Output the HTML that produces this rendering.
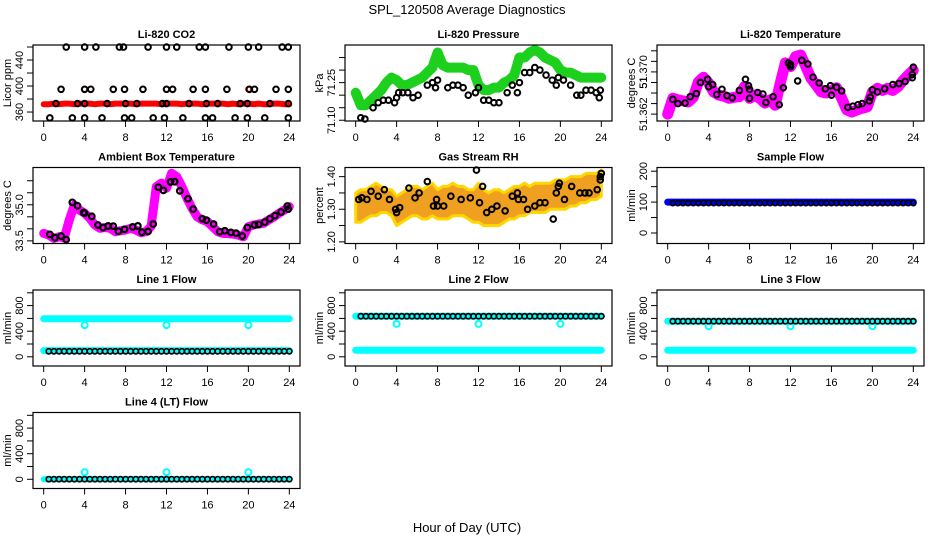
<!DOCTYPE html>
<html><head><meta charset="utf-8">
<style>
html,body{margin:0;padding:0;background:#fff;}
svg{display:block;font-family:"Liberation Sans",Arial,sans-serif;}
</style></head>
<body>
<svg id="chart" width="936" height="540" viewBox="0 0 936 540" xmlns="http://www.w3.org/2000/svg">
<rect width="936" height="540" fill="#fff"/>
<text x="467" y="14" text-anchor="middle" font-size="13">SPL_120508  Average Diagnostics</text>
<text x="467" y="532" text-anchor="middle" font-size="13">Hour of Day (UTC)</text>
</svg>
<script>
// ---- data ----
const H05 = [0,0.5,1,1.5,2,2.5,3,3.5,4,4.5,5,5.5,6,6.5,7,7.5,8,8.5,9,9.5,10,10.5,11,11.5,12,12.5,13,13.5,14,14.5,15,15.5,16,16.5,17,17.5,18,18.5,19,19.5,20,20.5,21,21.5,22,22.5,23,23.5,24];
const HB = [0.5,1,1.5,2,2.5,3,3.5,4,4.5,5,5.5,6,6.5,7,7.5,8,8.5,9,9.5,10,10.5,11,11.5,12,12.5,13,13.5,14,14.5,15,15.5,16,16.5,17,17.5,18,18.5,19,19.5,20,20.5,21,21.5,22,22.5,23,23.5,24];
const xTicks = [0,4,8,12,16,20,24];
const xTickLabels = ["0","4","8","12","16","20","24"];
const dipHours = [4,12,20];

const co2Red = [372,372,373,372,373,373,372, 373,373,373,372,373,373,372, 373,373,373,373,372,373,373, 373,373,372,373,373,373,372, 373,373,373,372,373,373,373, 373,372,373,372,373,373,372, 373,372,372,373,373,372,372];
const co2RedDips = [395,395,395];
const co2BlackH = [2.2,4,5.1,7.4,7.8,10.2,12,13,15.2,15.8,18.1,20,21,23.3,23.9, 1.7,4,4.6,6.8,7.9,9.7,12,12.6,14.6,15.8,17.9,20.1,20.6,22.7,23.9, 1.2,3.3,4,6.2,8,9.1,11.6,12,14.2,15.9,17,19.2,19.9,22.1,23.9, 0.6,2.8,4,5.7,7.9,8.6,10.7,11.8,13.6,15.8,16.5,18.7,19.9,21.6,23.9];
const co2BlackV = [460,460,460,460,460,460,460,460,460,460,460,460,460,460,460, 395,395,395,395,395,395,395,395,395,395,395,395,395,395,395, 373,373,373,373,373,373,373,373,373,373,373,373,373,373,373, 351,351,351,351,351,351,351,351,351,351,351,351,351,351,351];

const pressGreen = [71.21,71.16,71.16,71.18,71.20,71.22,71.25,71.27,71.26,71.24,71.24,71.25,71.26,71.27,71.29,71.31,71.37,71.32,71.31,71.31,71.31,71.31,71.30,71.30,71.24,71.22,71.22,71.23,71.23,71.25,71.26,71.28,71.35,71.35,71.37,71.38,71.37,71.35,71.34,71.33,71.30,71.29,71.29,71.28,71.27,71.27,71.27,71.27,71.27];
const pressBlackH = [0.5,0.9,1.7,2.2,2.7,3.2,3.8,4,4.2,4.6,5.1,5.6,6.1,7,7.5,7.8,8,9,9.5,10,10.5,11,11.7,12,12.5,13,13.5,14,14.8,15.3,15.8,16,16.5,17,17.5,18,18.6,19.2,19.6,19.8,20.3,21,21.6,22,22.5,23,23.5,23.8,23.9];
const pressBlackV = [71.11,71.105,71.15,71.17,71.18,71.18,71.17,71.19,71.21,71.21,71.21,71.19,71.20,71.24,71.25,71.23,71.26,71.23,71.24,71.24,71.23,71.20,71.21,71.23,71.18,71.18,71.17,71.17,71.21,71.24,71.21,71.25,71.29,71.29,71.31,71.30,71.28,71.26,71.24,71.27,71.26,71.24,71.20,71.20,71.22,71.22,71.21,71.19,71.22];

const tempMag = [51.3620,51.3650,51.3647,51.3645,51.3643,51.3652,51.3681,51.3690,51.3679,51.3662,51.3656,51.3654,51.3650,51.3652,51.3653,51.3672,51.3650,51.3656,51.3650,51.3641,51.3647,51.3637,51.3679,51.3717,51.3710,51.3729,51.3732,51.3710,51.3688,51.3675,51.3662,51.3660,51.3665,51.3670,51.3650,51.3628,51.3624,51.3628,51.3631,51.3634,51.3662,51.3669,51.3665,51.3669,51.3665,51.3672,51.3684,51.3694,51.3703];
const tempBlackH = [0.5,1,1.7,2.2,2.8,3.2,3.9,4,4.4,4.8,5.3,5.8,6.3,7,7.6,7.9,8,8,8.8,9.3,9.6,10.3,10.9,11.3,11.8,12,12,12.7,13.1,13.7,14.2,14.8,15.4,15.9,16,16.5,17,17.6,18.1,18.6,19,19.7,19.8,20,20.5,21.2,22,22.6,23.2,23.9,23.9,24];
const tempBlackV = [51.3648,51.3640,51.3641,51.3653,51.3659,51.3680,51.3686,51.3672,51.3676,51.3657,51.3667,51.3655,51.3651,51.3665,51.3686,51.3674,51.3667,51.3650,51.3661,51.3658,51.3642,51.3653,51.3638,51.3670,51.3717,51.3714,51.3710,51.3683,51.3722,51.3715,51.3690,51.3679,51.3668,51.3674,51.3656,51.3671,51.3664,51.3633,51.3635,51.3638,51.3640,51.3645,51.3652,51.3666,51.3662,51.3668,51.3676,51.3678,51.3682,51.3695,51.3689,51.3709];

const ambMag = [33.81,33.74,33.60,33.67,33.62,34.37,34.99,34.78,34.65,34.44,34.16,34.02,34.06,34.02,33.88,33.92,33.95,34.02,33.95,33.84,33.88,34.10,35.75,35.90,35.69,36.31,36.17,35.75,35.27,34.85,34.50,34.37,34.30,34.09,33.88,33.81,33.80,33.78,33.74,33.67,34.09,34.16,34.20,34.23,34.37,34.50,34.65,34.78,34.92];
const ambBlackH = [0.6,1.1,1.7,2.2,2.8,3.3,3.9,4,4.7,5.3,5.8,6.3,6.8,7.3,7.9,8.7,9.2,9.6,10.2,10.7,11.2,11.7,12.4,12.8,13.3,14.1,14.6,15.5,15.9,16.6,17.2,17.7,18.3,18.8,19.4,19.9,20.6,21,21.6,22.1,22.6,23.2,23.8,23.9];
const ambBlackV = [33.77,33.63,33.70,33.55,35.10,34.96,34.68,34.65,34.52,34.16,34.05,34.12,34.11,33.90,33.98,34.08,34.12,33.86,33.89,34.20,35.73,35.60,35.95,35.96,35.58,35.25,34.82,34.42,34.36,34.20,33.88,33.92,33.85,33.82,33.70,34.05,34.16,34.18,34.28,34.42,34.55,34.70,34.95,34.82];

const rhHi = [1.35,1.36,1.36,1.37,1.38,1.37,1.36,1.36,1.34,1.35,1.36,1.37,1.37,1.36,1.37,1.38,1.36,1.37,1.37,1.38,1.37,1.37,1.36,1.36,1.38,1.36,1.35,1.36,1.36,1.35,1.36,1.37,1.37,1.38,1.37,1.38,1.38,1.38,1.38,1.39,1.39,1.39,1.40,1.40,1.40,1.41,1.41,1.41,1.42];
const rhLo = [1.26,1.26,1.27,1.28,1.28,1.29,1.29,1.28,1.25,1.26,1.27,1.28,1.28,1.27,1.27,1.28,1.27,1.27,1.27,1.28,1.28,1.28,1.27,1.26,1.26,1.25,1.25,1.25,1.25,1.26,1.27,1.27,1.28,1.28,1.29,1.29,1.29,1.29,1.30,1.30,1.30,1.30,1.31,1.31,1.32,1.32,1.33,1.33,1.34];
const rhBlackH = [0.3,0.6,1.1,1.5,2.2,2.8,3.3,3.9,4,4.3,5.2,5.8,6.2,7,7.6,7.9,8,8.6,9.3,10.3,11.2,11.8,12.1,12.4,12.8,13.3,13.8,14.6,15.3,15.8,15.9,16.4,16.8,17.5,18,18.5,19.3,19.6,19.8,19.9,20.4,21.1,21.9,22.4,22.8,23.6,23.9,23.9,24];
const rhBlackV = [1.33,1.335,1.33,1.355,1.34,1.36,1.33,1.30,1.29,1.305,1.365,1.335,1.35,1.385,1.31,1.33,1.31,1.31,1.34,1.33,1.335,1.42,1.32,1.37,1.29,1.30,1.31,1.295,1.34,1.35,1.33,1.33,1.30,1.31,1.32,1.32,1.27,1.35,1.37,1.38,1.33,1.37,1.35,1.35,1.35,1.36,1.40,1.39,1.41];

const sampleBlue = [100,100,100,100,100,100,100,100,100,100,100,100,100,100,100,100,100,100,100,100,100,100,100,100,100,100,100,100,100,100,100,100,100,100,100,100,100,100,100,100,100,100,100,100,100,100,100,100,100];
const sampleBlack = [97,97,97,97,97,97,97,97,97,97,97,97,97,97,97,97,97,97,97,97,97,97,97,97,97,97,97,97,97,97,97,97,97,97,97,97,97,97,97,97,97,97,97,97,97,97,97,97];

const l1CyanHigh = [594,594,594,594,594,594,594,594,594,594,594,596,594,594,596,594,594,594,594,594,594,594,594,594,594,594,594,596,594,594,594,594,594,594,594,594,594,594,594,594,594,594,594,594,594,594,594,594,594];
const l1CyanLow = [96,96,96,96,96,96,96,96,96,96,96,96,96,96,96,96,96,96,96,96,96,96,96,96,96,96,96,96,96,96,96,96,96,96,96,96,96,96,96,96,96,96,96,96,96,96,96,96,96];
const l1Black = [86,86,86,86,86,86,86,86,86,86,86,86,86,86,86,86,86,86,86,86,86,86,86,86,86,86,86,86,86,86,86,86,86,86,86,86,86,86,86,86,86,86,86,86,86,86,86,86];
const l1Dips = [494,494,494];

const l2CyanHigh = [634,634,634,634,634,634,634,634,634,634,634,634,634,634,634,634,634,634,634,634,634,634,634,634,634,634,634,634,634,634,634,634,634,634,634,634,634,634,634,634,634,634,634,634,634,634,634,634,634];
const l2CyanLow = [103,103,103,103,103,103,103,103,103,103,103,103,103,103,103,103,103,103,103,103,103,103,103,103,103,103,103,103,103,103,103,103,103,103,103,103,103,103,103,103,103,103,103,103,103,103,103,103,103];
const l2Black = [634,634,634,634,634,634,634,634,634,634,634,634,634,634,634,634,634,634,634,634,634,634,634,634,634,634,634,634,634,634,634,634,634,634,634,634,634,634,634,634,634,634,634,634,634,634,634,634];
const l2Dips = [515,515,515];

const l3CyanHigh = [556,556,556,556,556,556,556,556,556,556,556,556,556,556,556,556,556,556,556,556,556,556,556,556,556,556,556,556,556,556,556,556,556,556,556,556,556,556,556,556,556,556,556,556,556,556,556,556,556];
const l3CyanLow = [103,103,103,103,103,103,103,103,103,103,103,103,103,103,103,103,103,103,103,103,103,103,103,103,103,103,103,103,103,103,103,103,103,103,103,103,103,103,103,103,103,103,103,103,103,103,103,103,103];
const l3Black = [556,556,556,556,556,556,556,556,556,556,556,556,556,556,556,556,556,556,556,556,556,556,556,556,556,556,556,556,556,556,556,556,556,556,556,556,556,556,556,556,556,556,556,556,556,556,556,556];
const l3Dips = [478,478,478];

const l4Cyan = [2,2,2,2,2,2,2,2,2,2,2,2,2,2,2,2,2,2,2,2,2,2,2,2,2,2,2,2,2,2,2,2,2,2,2,2,2,2,2,2,2,2,2,2,2,2,2,2,2];
const l4Black = [2,2,2,2,2,2,2,2,2,2,2,2,2,2,2,2,2,2,2,2,2,2,2,2,2,2,2,2,2,2,2,2,2,2,2,2,2,2,2,2,2,2,2,2,2,2,2,2];
const l4Spikes = [110,110,110];

const co2Ticks = [360,380,400,420,440,460];
const co2TickLabels = ["360","","400","","440",""];
const pressTicks = [71.10,71.15,71.20,71.25,71.30,71.35];
const pressTickLabels = ["71.10","","","71.25","",""];
const tempTicks = [51.362,51.364,51.366,51.368,51.370,51.372,51.374];
const tempTickLabels = ["51.362","","","51","51.370","",""];
const ambTicks = [33.5,34.0,34.5,35.0,35.5,36.0];
const ambTickLabels = ["33.5","","","35.0","",""];
const rhTicks = [1.20,1.25,1.30,1.35,1.40];
const rhTickLabels = ["1.20","","1.30","","1.40"];
const sfTicks = [0,50,100,150,200];
const sfTickLabels = ["0","","100","","200"];
const flowTicks = [0,200,400,600,800,1000];
const flowTickLabels = ["0","","400","","800",""];

// ---- drawing ----
const NS = "http://www.w3.org/2000/svg";
const svg = document.getElementById("chart");
function mk(tag, attrs, parent){
  const e = document.createElementNS(NS, tag);
  for (const k in attrs) e.setAttribute(k, attrs[k]);
  (parent || svg).appendChild(e);
  return e;
}
function makePanel(key, col, row, yDom, title, ylab, ticks, tickLabels){
  const L = 33 + 312*col, R = 300 + 312*col;
  const T = 45 + 122.5*row, B = T + 76;
  const g = mk("g", {});
  
  
  const pad = (R-L)*0.04;
  const x = h => L + pad + h/24*((R-L) - 2*pad);
  const y = v => B - (v - yDom[0])/(yDom[1]-yDom[0])*(B-T);
  const plot = mk("g", {}, g);
  
  
  const t = mk("text", {x:(L+R)/2, y:T-7, "text-anchor":"middle", "font-size":"11", "font-weight":"bold"}, g);
  t.textContent = title;
  
  
  const yl = mk("text", {x:0, y:0, transform:"translate("+(L-22)+","+((T+B)/2)+") rotate(-90)", "text-anchor":"middle", "font-size":"11"}, g);
  yl.textContent = ylab;
  
  
  const xa = mk("g", {}, g);
  
  
  xTicks.forEach((h,i) => {
    mk("line", {x1:x(h), x2:x(h), y1:B, y2:B+6, stroke:"#000", "stroke-width":1}, xa);
    const tl = mk("text", {x:x(h), y:B+20, "text-anchor":"middle", "font-size":"11"}, xa);
    tl.textContent = xTickLabels[i];
    
    
  });
  const ya = mk("g", {}, g);
  
  
  ticks.forEach((v,i) => {
    const yy = y(v);
    mk("line", {x1:L-6, x2:L, y1:yy, y2:yy, stroke:"#000", "stroke-width":1}, ya);
    if (tickLabels[i]) {
      const tl = mk("text", {x:0, y:0, transform:"translate("+(L-10)+","+yy+") rotate(-90)", "text-anchor":"middle", "font-size":"11"}, ya);
      tl.textContent = tickLabels[i];
      
      
    }
  });
  return {g, plot, x, y, L, R, T, B, key};
}
function finishPanel(p){
  const box = mk("rect", {x:p.L, y:p.T, width:p.R-p.L, height:p.B-p.T, fill:"none", stroke:"#000", "stroke-width":1.2}, p.g);
  
  
}
function band(p, hs, vs, color, w, name){
  const pts = hs.map((h,i) => p.x(h).toFixed(1) + "," + p.y(vs[i]).toFixed(1)).join(" ");
  const pl = mk("polyline", {points:pts, fill:"none", stroke:color, "stroke-width":w, "stroke-linejoin":"round", "stroke-linecap":"round"}, p.plot);
  
  
}
function dots(p, hs, vs, color, r, sw, name){
  const gg = mk("g", {}, p.plot);
  
  
  hs.forEach((h,i) => {
    const c = mk("circle", {cx:p.x(h), cy:p.y(vs[i]), r:r, fill:"none", stroke:color, "stroke-width":sw}, gg);
    
    
  });
}
function area(p, hs, hi, lo, color, name){
  const top = hs.map((h,i) => p.x(h).toFixed(1) + "," + p.y(hi[i]).toFixed(1));
  const bot = hs.map((h,i) => p.x(h).toFixed(1) + "," + p.y(lo[i]).toFixed(1)).reverse();
  const pg = mk("polygon", {points:top.concat(bot).join(" "), fill:color, stroke:"#ffd700", "stroke-width":3, "stroke-linejoin":"round"}, p.plot);
  
  
}

// Panel 1: CO2
let p = makePanel("co2", 0, 0, [346.2, 463.1], "Li-820 CO2", "Licor ppm", co2Ticks, co2TickLabels);
band(p, H05, co2Red, "#ff0000", 6, "co2-red-series");
dots(p, dipHours, co2RedDips, "#ff0000", 2.5, 1.5, "co2-red-dips");
dots(p, co2BlackH, co2BlackV, "#000", 2.8, 2, "co2-black-series");
finishPanel(p);

// Panel 2: Pressure
p = makePanel("pressure", 1, 0, [71.097, 71.40], "Li-820 Pressure", "kPa", pressTicks, pressTickLabels);
band(p, H05, pressGreen, "#1ed01e", 10, "pressure-green-series");
dots(p, pressBlackH, pressBlackV, "#000", 2.8, 2, "pressure-black-series");
finishPanel(p);

// Panel 3: Li-820 Temperature
p = makePanel("li820-temp", 2, 0, [51.3607, 51.3751], "Li-820 Temperature", "degrees C", tempTicks, tempTickLabels);
band(p, H05, tempMag, "#ff00ff", 11, "li820-temp-magenta-series");
dots(p, tempBlackH, tempBlackV, "#000", 2.8, 2, "li820-temp-black-series");
finishPanel(p);

// Panel 4: Ambient
p = makePanel("ambient-temp", 0, 1, [33.39, 36.55], "Ambient Box Temperature", "degrees C", ambTicks, ambTickLabels);
band(p, H05, ambMag, "#ff00ff", 9, "ambient-magenta-series");
dots(p, ambBlackH, ambBlackV, "#000", 2.8, 2.2, "ambient-black-series");
finishPanel(p);

// Panel 5: RH
p = makePanel("rh", 1, 1, [1.195, 1.428], "Gas Stream RH", "percent", rhTicks, rhTickLabels);
area(p, H05, rhHi, rhLo, "#f0a020", "rh-orange-band");
dots(p, rhBlackH, rhBlackV, "#000", 2.8, 2, "rh-black-series");
finishPanel(p);

// Panel 6: Sample flow
p = makePanel("sample-flow", 2, 1, [-34, 212], "Sample Flow", "ml/min", sfTicks, sfTickLabels);
band(p, H05, sampleBlue, "#0000ff", 7, "sample-flow-blue-series");
dots(p, HB, sampleBlack, "#000", 2.6, 1.7, "sample-flow-black-series");
finishPanel(p);

// Panel 7: Line 1
p = makePanel("line1-flow", 0, 2, [-144, 1044], "Line 1 Flow", "ml/min", flowTicks, flowTickLabels);
band(p, H05, l1CyanHigh, "#00ffff", 7, "line1-cyan-high");
band(p, H05, l1CyanLow, "#00ffff", 7, "line1-cyan-low");
dots(p, dipHours, l1Dips, "#00ffff", 3, 2, "line1-cyan-dips");
dots(p, HB, l1Black, "#000", 2.6, 1.7, "line1-black-series");
finishPanel(p);

// Panel 8: Line 2
p = makePanel("line2-flow", 1, 2, [-144, 1044], "Line 2 Flow", "ml/min", flowTicks, flowTickLabels);
band(p, H05, l2CyanHigh, "#00ffff", 7, "line2-cyan-high");
band(p, H05, l2CyanLow, "#00ffff", 7, "line2-cyan-low");
dots(p, dipHours, l2Dips, "#00ffff", 3, 2, "line2-cyan-dips");
dots(p, HB, l2Black, "#000", 2.6, 1.7, "line2-black-series");
finishPanel(p);

// Panel 9: Line 3
p = makePanel("line3-flow", 2, 2, [-144, 1044], "Line 3 Flow", "ml/min", flowTicks, flowTickLabels);
band(p, H05, l3CyanHigh, "#00ffff", 7, "line3-cyan-high");
band(p, H05, l3CyanLow, "#00ffff", 7, "line3-cyan-low");
dots(p, dipHours, l3Dips, "#00ffff", 3, 2, "line3-cyan-dips");
dots(p, HB, l3Black, "#000", 2.6, 1.7, "line3-black-series");
finishPanel(p);

// Panel 10: Line 4
p = makePanel("line4-flow", 0, 3, [-144, 1044], "Line 4 (LT) Flow", "ml/min", flowTicks, flowTickLabels);
band(p, H05, l4Cyan, "#00ffff", 6, "line4-cyan-series");
dots(p, dipHours, l4Spikes, "#00ffff", 3, 2, "line4-cyan-spikes");
dots(p, HB, l4Black, "#000", 2.6, 1.7, "line4-black-series");
finishPanel(p);
</script>
</body></html>
